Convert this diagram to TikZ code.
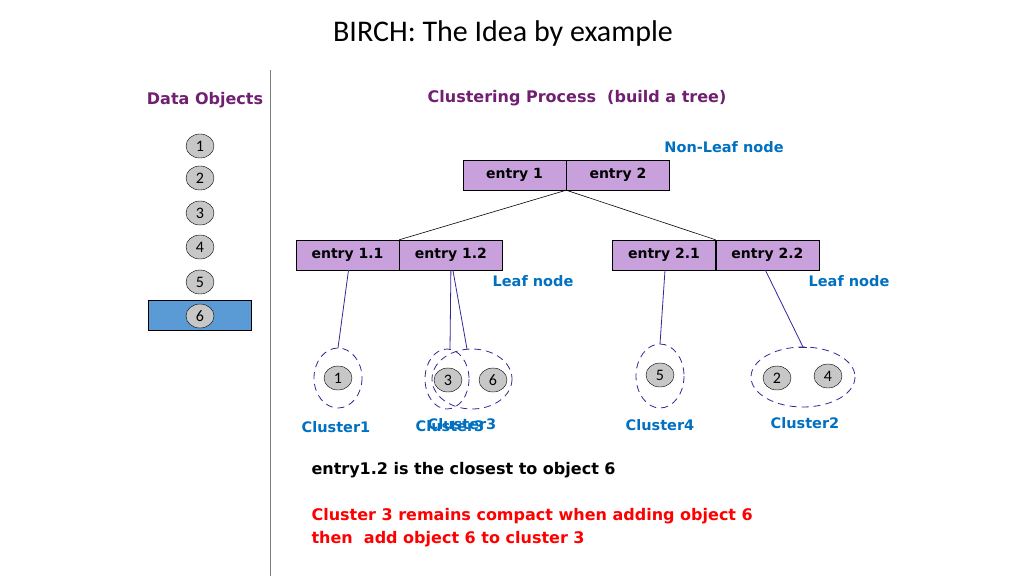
\documentclass[tikz,border=0pt]{standalone}
\usepackage{fontspec}
\setmainfont{Carlito}
\newfontfamily\lbl{DejaVu Sans}
\usetikzlibrary{positioning, calc, shapes.geometric}
\definecolor{entryfill}{RGB}{200,160,220}
\definecolor{titlepurple}{RGB}{112,32,112}
\definecolor{leafblue}{RGB}{0,112,192}
\definecolor{clusterline}{RGB}{50,40,150}
\definecolor{objblue}{RGB}{91,155,213}
\begin{document}
\begin{tikzpicture}[x=1pt,y=-1pt]
  \tikzset{
    entry/.style={draw=black, fill=entryfill, minimum width=103pt, minimum height=30pt, font=\lbl\bfseries\fontsize{14}{16}\selectfont, inner sep=0pt},
    obj/.style={draw=black, fill=black!22, ellipse, minimum width=28pt, minimum height=24pt, inner sep=0pt, font=\fontsize{16}{16}\selectfont},
    clus/.style={draw=clusterline, thick, dashed, dash pattern=on 7pt off 5pt},
    lab/.style={font=\lbl\bfseries\fontsize{14.5}{16}\selectfont, text=leafblue},
    link/.style={draw=clusterline, thick}
  }
  \useasboundingbox (0,0) rectangle (1024,576);
  \node at (503,33) {\fontsize{30}{34}\selectfont BIRCH: The Idea by example};
  \draw[gray, thick] (270,70) -- (270,576);
  \node[font=\lbl\bfseries\fontsize{16}{18}\selectfont, text=titlepurple] at (205,100) {Data Objects};
  \node[font=\lbl\bfseries\fontsize{16}{18}\selectfont, text=titlepurple] at (577,98) {Clustering Process\ \ (build a tree)};
  % data objects
  \node[draw=black, fill=objblue, minimum width=103pt, minimum height=30pt] (sel) at (200,315) {};
  \foreach \i/\y in {1/146,2/178,3/213,4/247,5/282,6/316}
    \node[obj] (d\i) at (200,\y) {\i};
  % tree
  \node[entry] (e1) at (514.5,175) {entry 1};
  \node[entry, right=0pt of e1] (e2) {entry 2};
  \node[entry] (e11) at (347.5,255) {entry 1.1};
  \node[entry, right=0pt of e11] (e12) {entry 1.2};
  \node[entry] (e21) at (664,255) {entry 2.1};
  \node[entry, right=0pt of e21] (e22) {entry 2.2};
  \coordinate (root) at (e1.south east);
  \draw[semithick] (root) -- (e11.north east);
  \draw[semithick] (root) -- (e21.north east);
  \node[lab] at (724,147) {Non-Leaf node};
  \node[lab] at (533,281) {Leaf node};
  \node[lab] at (849,281) {Leaf node};
  % clusters
  \node[obj] (c1) at (338,378) {1};
  \node[obj] (c3) at (448,380) {3};
  \node[obj] (c6) at (493,380) {6};
  \node[obj] (c5) at (660,375) {5};
  \node[obj] (c2) at (777,378) {2};
  \node[obj] (c4) at (828,376) {4};
  \draw[clus] (338,378) ellipse (24 and 30);
  \draw[clus] (447,379) ellipse (22 and 30);
  \draw[clus] (472,379) ellipse (40 and 30);
  \draw[clus] (660,376) ellipse (24 and 32);
  \draw[clus] (803,377) ellipse (52 and 30);
  \coordinate (k1) at (338,348);
  \coordinate (k3) at (450,349);
  \coordinate (k36) at (467,349);
  \coordinate (k5) at (660,344);
  \coordinate (k24) at (803,347);
  \draw[link] (e11.south) ++(1,0) -- (k1);
  \draw[link] (e12.south) ++(0,0) -- (k3);
  \draw[link] (e12.south) ++(2,0) -- (k36);
  \draw[link] (e21.south) ++(1,0) -- (k5);
  \draw[link] (e22.south) ++(-2,0) -- (k24);
  \draw[link] ($(k24)+(-4,0)$) -- ++(8,0);
  \node[lab] at (336,427) {Cluster1};
  \node[lab] at (450,426) {Cluster3};
  \node[lab] at (462,424) {Cluster3};
  \node[lab] at (660,425) {Cluster4};
  \node[lab] at (805,423) {Cluster2};
  % notes
  \node[font=\lbl\bfseries\fontsize{16}{23}\selectfont, anchor=west] at (308,470) {entry1.2 is the closest to object 6};
  \node[font=\lbl\bfseries\fontsize{16}{23}\selectfont, text=red, anchor=west, align=left] at (308,528) {Cluster 3 remains compact when adding object 6\\then\ \ add object 6 to cluster 3};
\end{tikzpicture}
\end{document}
